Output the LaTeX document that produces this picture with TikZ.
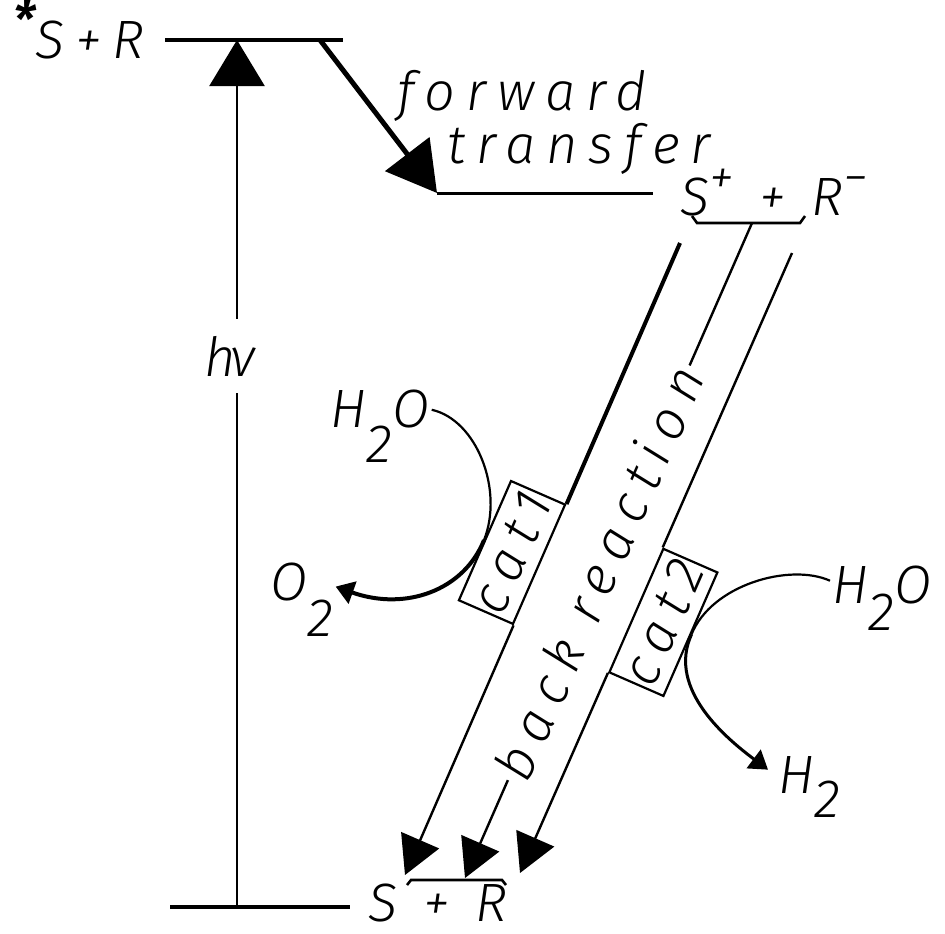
\documentclass[tikz,border=0pt]{standalone}
\usepackage{fontspec}
\IfFontExistsTF{Fira Sans Light Italic}
  {\setmainfont{Fira Sans Light Italic}[LetterSpace=20]}
  {\setmainfont{Fira Sans}[LetterSpace=20]\AtBeginDocument{\itshape}}
\usetikzlibrary{positioning,arrows.meta,calc}

\newcommand{\dn}[2][0.6em]{\raisebox{-#1}{#2}}
\newcommand{\up}[1]{\raisebox{0.38em}{\fontsize{25}{25}\selectfont #1}}

\begin{document}
\begin{tikzpicture}[
    x=0.5pt, y=-0.5pt,
    font=\fontsize{27}{32}\selectfont,
    level/.style={line width=2pt},
    lbl/.style={inner sep=1pt},
    catbox/.style={draw, line width=1.1pt, rotate=66.4, minimum width=63pt,
        minimum height=29.5pt, inner sep=1pt},
    bigtip/.style={-{Triangle[length=23pt,width=27.5pt]}},
    back/.style={line width=1.2pt, -{Triangle[length=19pt,width=20.5pt]}},
    curveline/.style={line width=1.1pt},
    smalltip/.style={-{Triangle[length=9pt,width=11.5pt]}},
]
\useasboundingbox (0,0) rectangle (945,933);

% Energy levels
\coordinate (e1a) at (165,40);
\coordinate (e1b) at (343,40);
\coordinate (e2a) at (437,193);
\coordinate (e2b) at (653,193);
\coordinate (e0a) at (170,907);
\coordinate (e0b) at (350,907);
\draw[level] (e1a) -- (e1b);
\draw[level, line width=1.5pt] (e2a) -- (e2b);
\draw[level, line width=2.2pt] (e0a) -- (e0b);

% State labels
\node[lbl, anchor=base west] (SR1) at (11,58) {\up{\bfseries *}S+R};
\node[lbl, anchor=base west] (SR2) at (678,215) {S\up{+} + R\up{−}};
\node[lbl, anchor=base west] (SR0) at (366,921) {S + R};

% Brackets
\draw[line width=1.3pt] (692,216) -- (697,223) -- (800,223) -- (805,216);
\draw[line width=1.3pt] (407,885) -- (411,880) -- (502,880) -- (506,885);

% Excitation
\coordinate (hvb) at (237,907);
\coordinate (hvt) at (237,40);
\draw[line width=1.2pt, bigtip] (hvb) -- (hvt);
\node[lbl, fill=white, inner ysep=8.5pt] (hv) at (230,356) {h\kern-3ptν};

% Forward transfer
\coordinate (ft) at (320,40);
\draw[line width=2.5pt, -{Triangle[length=24.5pt,width=27.5pt]}] (ft) -- (e2a);
\node[lbl, anchor=base west] (fw) at (395,110) {forward};
\node[lbl, anchor=base west] (tr) at (445,163) {transfer};

% Back reactions
\coordinate (b1) at (680,243);
\coordinate (b2) at (752,223);
\coordinate (b3) at (792,253);
\coordinate (t1) at (405,875);
\coordinate (t2) at (465,878);
\coordinate (t3) at (520,873);

\node[catbox, anchor=south] (cat1) at ($(b1)!0.509!(t1)$) {cat1};
\node[catbox, anchor=north] (cat2) at ($(b3)!0.576!(t3)$) {cat2};

\draw[line width=2pt] (b1) -- (cat1.south east);
\draw[back] (cat1.south west) -- (t1);
\draw[back] (b2) -- node[pos=0.534, sloped, fill=white, inner xsep=2pt, inner ysep=0pt] (br) {back reaction} (t2);
\draw[line width=1.2pt] (b3) -- (cat2.north east);
\draw[back] (cat2.north west) -- (t3);

% Water splitting
\node[lbl, anchor=base west] (h2oA) at (328,427) {H\dn[0.65em]{2}O};
\node[lbl, anchor=base west] (o2) at (268,600) {O\dn[0.68em]{2}};
\node[lbl, anchor=base west] (h2oB) at (830,603) {H\dn[0.5em]{2}O};
\node[lbl, anchor=base west] (h2) at (776,793) {H\dn[0.45em]{2}};

\draw[curveline] ([yshift=8pt]h2oA.east) .. controls +(45,10) and +(20,-50) .. (cat1.north);
\draw[curveline, line width=2pt, smalltip] (cat1.north) .. controls +(-20,50) and +(70,25) .. ([yshift=6.5pt]o2.east);
\draw[curveline] ([yshift=8.5pt]h2oB.west) .. controls +(-40,-18) and +(20,-50) .. (cat2.south);
\draw[curveline, line width=1.5pt, smalltip] (cat2.south) .. controls +(-25,55) and +(-40,-30) .. ([xshift=-4pt,yshift=8.5pt]h2.west);

\end{tikzpicture}
\end{document}
